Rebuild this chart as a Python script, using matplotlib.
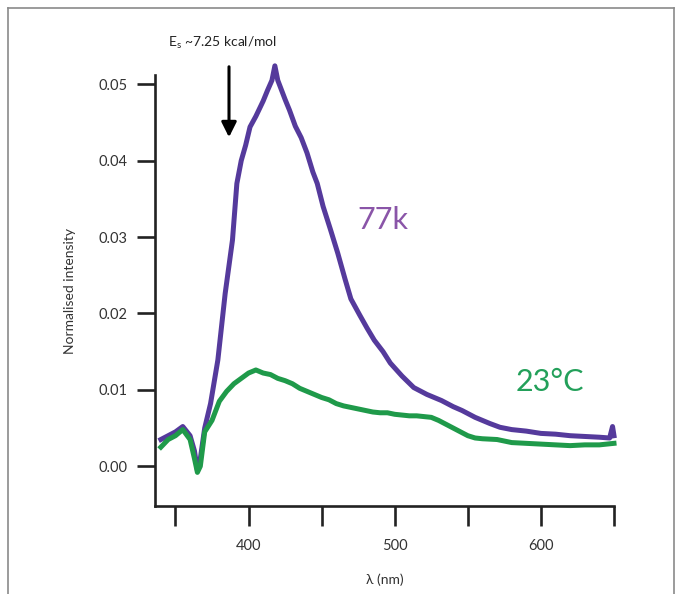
import matplotlib
matplotlib.use("Agg")
import matplotlib.pyplot as plt
from matplotlib.lines import Line2D

plt.rcParams['font.family'] = ['Lato', 'DejaVu Sans']

# 77 K spectrum
wl_77k = [340, 345, 350, 355, 360, 363, 365, 367, 370, 374, 379, 384, 389, 392,
          395, 398, 401, 405, 408, 410, 413, 416, 418, 420, 422, 425, 428, 432,
          436, 440, 444, 447, 451, 456, 461, 466, 470, 476, 481, 486, 492, 497,
          505, 513, 522, 532, 540, 546, 555, 565, 572, 580, 590, 600, 610, 620,
          630, 640, 647, 649, 650]
int_77k = [0.0035, 0.0040, 0.0045, 0.0052, 0.0040, 0.0020, -0.0005, 0.0010,
           0.0050, 0.0082, 0.0139, 0.0226, 0.0296, 0.0370, 0.0400, 0.0420,
           0.0444, 0.0458, 0.0470, 0.0478, 0.0492, 0.0505, 0.0524, 0.0505,
           0.0495, 0.0480, 0.0466, 0.0445, 0.0430, 0.0410, 0.0385, 0.0370,
           0.0340, 0.0310, 0.0279, 0.0245, 0.0219, 0.0198, 0.0181, 0.0165,
           0.0150, 0.0135, 0.0118, 0.0103, 0.0094, 0.0086, 0.0078, 0.0073,
           0.0064, 0.0056, 0.0051, 0.0048, 0.0046, 0.0043, 0.0042, 0.0040,
           0.0039, 0.0038, 0.0037, 0.0052, 0.0040]

# 23 °C spectrum
wl_23c = [340, 345, 350, 355, 360, 363, 365, 367, 370, 375, 380, 385, 390, 395,
          400, 405, 410, 415, 420, 425, 430, 435, 440, 445, 450, 455, 460, 465,
          470, 475, 480, 485, 490, 495, 500, 505, 510, 515, 520, 525, 530, 535,
          540, 545, 550, 555, 560, 570, 580, 590, 600, 610, 620, 630, 640, 650]
int_23c = [0.0025, 0.0035, 0.0040, 0.0048, 0.0035, 0.0010, -0.0008, 0.0000,
           0.0045, 0.0060, 0.0085, 0.0098, 0.0108, 0.0115, 0.0122, 0.0126,
           0.0122, 0.0120, 0.0115, 0.0112, 0.0108, 0.0102, 0.0098, 0.0094,
           0.0090, 0.0087, 0.0082, 0.0079, 0.0077, 0.0075, 0.0073, 0.0071,
           0.0070, 0.0070, 0.0068, 0.0067, 0.0066, 0.0066, 0.0065, 0.0064,
           0.0060, 0.0055, 0.0050, 0.0045, 0.0040, 0.0037, 0.0036, 0.0035,
           0.0031, 0.0030, 0.0029, 0.0028, 0.0027, 0.0028, 0.0028, 0.0030]

x_ticks = [350, 400, 450, 500, 550, 600, 650]
x_ticklabels = ['', '400', '', '500', '', '600', '']
y_ticks = [0.00, 0.01, 0.02, 0.03, 0.04, 0.05]
y_ticklabels = ['0.00', '0.01', '0.02', '0.03', '0.04', '0.05']

W, H = 681, 594
fig = plt.figure(figsize=(W / 100, H / 100), dpi=100)
ax = fig.add_axes([155 / W, 1 - 506 / H, (614 - 155) / W, (506 - 75) / H])

purple = '#553a9c'
green = '#1f9a4a'
ax.plot(wl_77k, int_77k, color=purple, lw=3.6, clip_on=False, solid_joinstyle='round')
ax.plot(wl_23c, int_23c, color=green, lw=3.6, clip_on=False, solid_joinstyle='round')

ax.set_xlim(336, 650)
ax.set_ylim(-0.0052, 0.0512)
ax.set_xticks(x_ticks)
ax.set_xticklabels(x_ticklabels)
ax.set_yticks(y_ticks)
ax.set_yticklabels(y_ticklabels)

for s in ['top', 'right']:
    ax.spines[s].set_visible(False)
for s in ['left', 'bottom']:
    ax.spines[s].set_linewidth(1.9)
    ax.spines[s].set_color('#222222')
ax.tick_params(axis='x', length=14.5, width=1.9, color='#222222', pad=9,
               labelsize=10.5, labelcolor='#333333')
ax.tick_params(axis='y', length=13, width=1.9, color='#222222', pad=7,
               labelsize=10.5, labelcolor='#333333')

ax.set_xlabel('λ (nm)', fontsize=10, color='#333333', labelpad=15)
ax.set_ylabel('Normalised intensity', fontsize=10, color='#333333', labelpad=16)

ax.text(357 / W, 1 - 220 / H, '77k', transform=fig.transFigure, fontsize=22,
        color='#8a55a8', va='center', ha='left')
ax.text(516 / W, 1 - 382 / H, '23°C', transform=fig.transFigure, fontsize=22,
        color='#23a05a', va='center', ha='left')

fig.text(168 / W, 1 - 43 / H, r'E$_\mathregular{s}$ ~7.25 kcal/mol', fontsize=10,
         color='#222222', va='center', ha='left')
fig.add_artist(matplotlib.patches.FancyArrowPatch(
    (229 / W, 1 - 64 / H), (229 / W, 1 - 140 / H), transform=fig.transFigure,
    arrowstyle='-|>,head_length=6,head_width=3', color='black', lw=2.2,
    mutation_scale=1.5))

# outer frame (left, top, right)
bc = '#8a8a8a'
fig.add_artist(Line2D([8 / W, 8 / W], [0, 1 - 8 / H], transform=fig.transFigure, color=bc, lw=1.2))
fig.add_artist(Line2D([8 / W, 674 / W], [1 - 8 / H, 1 - 8 / H], transform=fig.transFigure, color=bc, lw=1.2))
fig.add_artist(Line2D([674 / W, 674 / W], [0, 1 - 8 / H], transform=fig.transFigure, color=bc, lw=1.2))

fig.savefig('out.png', dpi=100)
